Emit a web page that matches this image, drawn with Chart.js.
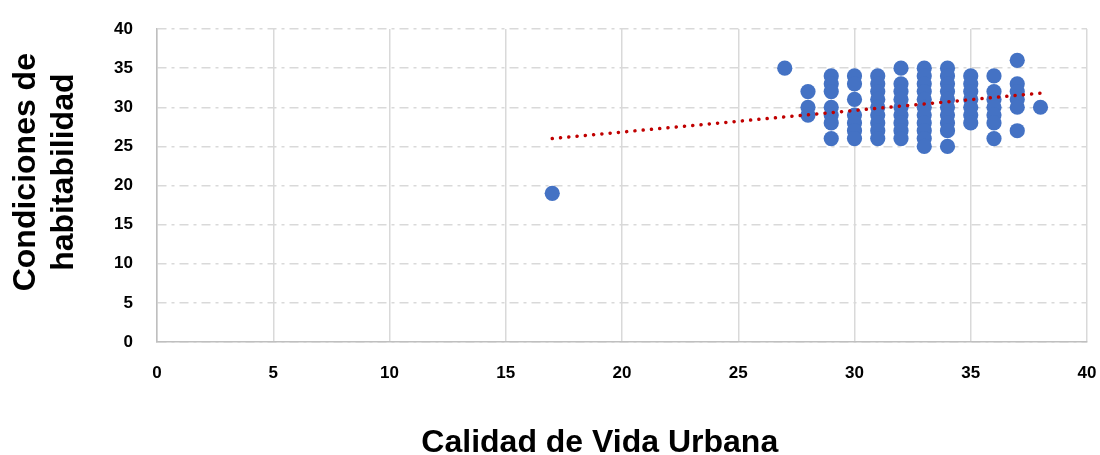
<!DOCTYPE html>
<html>
<head>
<meta charset="utf-8">
<script src="https://cdn.jsdelivr.net/npm/chart.js@4"></script>
<style>
  html, body { margin: 0; padding: 0; background: #fff; }
  #wrap { width: 1100px; height: 455px; position: relative; }
</style>
</head>
<body>
<div id="wrap"><canvas id="c" width="1100" height="455"></canvas></div>
<script>
// Calidad de Vida Urbana (x) values, one per column of points
const xColumns = [17, 27, 28, 29, 30, 31, 32, 33, 34, 35, 36, 37, 38];
// Condiciones de habitabilidad (y) values found at each x column
const yColumns = [
  [19],
  [35],
  [32, 30, 29],
  [34, 33, 32, 30, 29, 28, 26],
  [34, 33, 31, 29, 28, 27, 26],
  [34, 33, 32, 31, 30, 29, 28, 27, 26],
  [35, 33, 32, 31, 30, 29, 28, 27, 26],
  [35, 34, 33, 32, 31, 30, 29, 28, 27, 26, 25],
  [35, 34, 33, 32, 31, 30, 29, 28, 27, 25],
  [34, 33, 32, 31, 30, 29, 28],
  [34, 32, 31, 30, 29, 28, 26],
  [36, 33, 32, 31, 30, 27],
  [30]
];
// Linear trend line end points
const trendX = [17, 38];
const trendY = [26.0, 31.8];
// Axis ticks
const xTickMin = 0, xTickMax = 40, xTickStep = 5;
const yTickMin = 0, yTickMax = 40, yTickStep = 5;

const xTitle = 'Calidad de Vida Urbana';
const yTitle = ['Condiciones de', 'habitabilidad'];

const points = [];
xColumns.forEach((x, i) => yColumns[i].forEach(y => points.push({x, y})));
const trend = trendX.map((x, i) => ({x, y: trendY[i]}));

const FONT = '"Liberation Sans", Arial, sans-serif';
const gridCol = '#D9D9D9';
const axisCol = '#BFBFBF';

new Chart(document.getElementById('c'), {
  type: 'scatter',
  data: {
    datasets: [
      {
        label: 'Tendencia',
        type: 'line',
        data: trend,
        borderColor: '#C00000',
        borderWidth: 3.5,
        borderDash: [0.1, 8.2],
        borderCapStyle: 'round',
        pointRadius: 0,
        fill: false,
        order: 0
      },
      {
        label: 'Datos',
        data: points,
        backgroundColor: '#4472C4',
        borderColor: '#4472C4',
        borderWidth: 0,
        pointRadius: 7.6,
        pointHoverRadius: 7.6,
        order: 1
      }
    ]
  },
  options: {
    responsive: false,
    animation: false,
    events: [],
    layout: { padding: { left: 0, right: 13, top: 29, bottom: 0 } },
    plugins: { legend: { display: false }, tooltip: { enabled: false } },
    scales: {
      x: {
        type: 'linear',
        min: xTickMin, max: xTickMax,
        ticks: { stepSize: xTickStep, color: '#000', padding: 21,
                 font: { family: FONT, size: 17, weight: 'bold' } },
        grid: { color: gridCol, lineWidth: 1.5, drawTicks: false },
        border: { display: true, color: axisCol, width: 1.5 },
        title: { display: true, text: xTitle + '     ', color: '#000',
                 font: { family: FONT, size: 32, weight: 'bold', lineHeight: 0.8 },
                 padding: { top: 0, bottom: -1 } },
        afterFit: s => { s.height = 113; s.paddingRight = 0; s.paddingLeft = 5; }
      },
      y: {
        type: 'linear',
        min: yTickMin, max: yTickMax,
        ticks: { stepSize: yTickStep, color: '#000', padding: 24,
                 font: { family: FONT, size: 17, weight: 'bold' } },
        grid: { color: gridCol, lineWidth: 1.5, drawTicks: false },
        border: { display: true, color: axisCol, width: 1.5, dash: [9, 5, 3, 5] },
        title: { display: true, text: yTitle.map(t => '   ' + t), color: '#000',
                 font: { family: FONT, size: 32, weight: 'bold', lineHeight: 1.19 },
                 padding: { top: 7, bottom: 0 } },
        afterFit: s => { s.width = 157; s.paddingTop = 10; s.paddingBottom = 10; }
      }
    }
  }
});
</script>
</body>
</html>
